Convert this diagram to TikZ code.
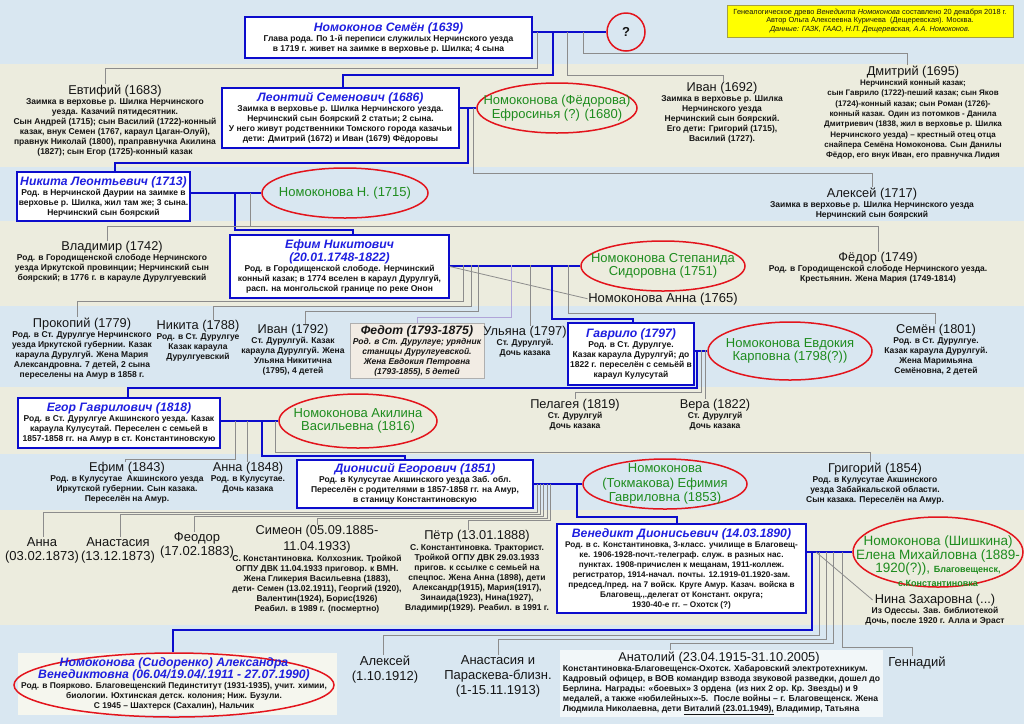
\documentclass[tikz,border=0pt]{standalone}
\usepackage{fontspec}
\setmainfont{Liberation Sans}
\usetikzlibrary{shapes.geometric,calc}
\definecolor{bandblue}{HTML}{D9E7F1}
\definecolor{bandbeige}{HTML}{ECECDE}
\definecolor{boxblue}{HTML}{0C0CCC}
\definecolor{titleblue}{HTML}{1F1FE0}
\definecolor{sgreen}{HTML}{1E8C1E}
\definecolor{sred}{HTML}{E3141C}
\definecolor{cgray}{HTML}{8C8C8C}
\definecolor{clav}{HTML}{B0A4D8}
\definecolor{fedotfill}{HTML}{F2ECE4}
\definecolor{infoyellow}{HTML}{FFFF00}
\definecolor{lightbox}{HTML}{F2F7F9}
\definecolor{lightbeige}{HTML}{F5F6EE}
\definecolor{txt}{HTML}{151515}
\newcommand\descfont{\fontsize{8.5}{10}\selectfont\bfseries}
\newcommand\smalldesc{\fontsize{8.2}{10}\selectfont\bfseries}
\newcommand\mytitle[1]{{\fontsize{12.2}{13}\selectfont\bfseries\itshape\color{titleblue}#1}}
\newcommand\myname[1]{{\fontsize{12.8}{13}\selectfont\mdseries #1}}

\begin{document}
\begin{tikzpicture}[x=1pt,y=-1pt,
  bl/.style={draw=boxblue, line width=1.2pt},
  gl/.style={draw=cgray, line width=0.8pt},
  lv/.style={draw=clav, line width=1pt},
  pbox/.style={draw=boxblue, line width=1.6pt, fill=white, align=center, inner sep=1pt, text=txt, font=\descfont},
  person/.style={align=center, anchor=north, inner sep=0.5pt, text=txt, font=\descfont},
  nameonly/.style={align=center, anchor=north, inner sep=0.5pt, text=txt, font=\fontsize{13}{14}\selectfont},
  spouse/.style={ellipse, draw=sred, line width=1.5pt, inner sep=0pt},
  spousetext/.style={align=center, text=sgreen, inner sep=0pt, font=\fontsize{13}{13.5}\selectfont},
]
% bands
\fill[bandblue] (0,0) rectangle (1024,64);
\fill[bandbeige] (0,64) rectangle (1024,167);
\fill[bandblue] (0,167) rectangle (1024,221);
\fill[bandbeige] (0,221) rectangle (1024,306);
\fill[bandblue] (0,306) rectangle (1024,387);
\fill[bandbeige] (0,387) rectangle (1024,454);
\fill[bandblue] (0,454) rectangle (1024,510);
\fill[bandbeige] (0,510) rectangle (1024,625);
\fill[bandblue] (0,625) rectangle (1024,724);
\useasboundingbox (0,0) rectangle (1024,724);
\fill[lightbeige] (18,653) rectangle (337,715);

% info
\node[draw=yellow!60!black, line width=0.4pt, fill=infoyellow, minimum width=286, minimum height=32, align=center, inner sep=1pt, font=\fontsize{7.4}{8.6}\selectfont, text=txt] (info) at (870,21) {Генеалогическое древо \textit{Венедикта Номоконова} составлено 20 декабря 2018 г.\\Автор Ольга Алексеевна Куричева \ (Дещеревская). Москва.\\\textit{Данные: ГАЗК, ГААО, Н.П. Дещеревская, А.А. Номоконов.}};

% generation 1
\node[pbox, minimum width=287, minimum height=41] (semen) at (388.5,37.5) {\mytitle{Номоконов Семён (1639)}\\Глава рода. По 1-й переписи служилых Нерчинского уезда\\в 1719 г. живет на заимке в верховье р. Шилка; 4 сына};
\node[circle, draw=sred, line width=1.5pt, minimum size=38, inner sep=0pt, font=\fontsize{13}{14}\selectfont\bfseries, text=txt] (qm) at (626,32) {?};

% generation 2
\node[person] (evt) at (115,84) {\myname{Евтифий (1683)}\\Заимка в верховье р. Шилка Нерчинского\\уезда. Казачий пятидесятник.\\Сын Андрей (1715); сын Василий (1722)-конный\\казак, внук Семен (1767, караул Цаган-Олуй),\\правнук Николай (1800), праправнучка Акилина\\(1827); сын Егор (1725)-конный казак};
\node[pbox, minimum width=237, minimum height=60] (leon) at (340.5,118) {\mytitle{Леонтий Семенович (1686)}\\Заимка в верховье р. Шилка Нерчинского уезда.\\Нерчинский сын боярский 2 статьи; 2 сына.\\У него живут родственники Томского города казачьи\\дети: Дмитрий (1672) и Иван (1679) Фёдоровы};
\node[spouse, minimum width=160, minimum height=50] (efrE) at (557,108) {};
\node[spousetext] (efr) at (efrE.center) {Номоконова (Фёдорова)\\Ефросинья (?) (1680)};
\node[person] (ivan92) at (722,82) {\myname{Иван (1692)}\\Заимка в верховье р. Шилка\\Нерчинского уезда\\Нерчинский сын боярский.\\Его дети: Григорий (1715),\\Василий (1727).};
\node[person, font=\fontsize{8}{10.3}\selectfont\bfseries] (dmitriy) at (913,65) {\myname{Дмитрий (1695)}\\Нерчинский конный казак;\\сын Гаврило (1722)-пеший казак; сын Яков\\(1724)-конный казак; сын Роман (1726)-\\конный казак. Один из потомков - Данила\\Дмитриевич (1838, жил в верховье р. Шилка\\Нерчинского уезда) – крестный отец отца\\снайпера Семёна Номоконова. Сын Данилы\\Фёдор, его внук Иван, его правнучка Лидия};

% generation 3
\node[pbox, minimum width=173, minimum height=49] (nik13) at (103.5,196.5) {\mytitle{Никита Леонтьевич (1713)}\\Род. в Нерчинской Даурии на заимке в\\верховье р. Шилка, жил там же; 3 сына.\\Нерчинский сын боярский};
\node[spouse, minimum width=166, minimum height=50] (nomNE) at (345,193) {};
\node[spousetext] (nomN) at (nomNE.center) {Номоконова Н. (1715)};
\node[person] (aleksey17) at (872,187) {\myname{Алексей (1717)}\\Заимка в верховье р. Шилка Нерчинского уезда\\Нерчинский сын боярский};

% generation 4
\node[person] (vladimir) at (112,241) {\myname{Владимир (1742)}\\Род. в Городищенской слободе Нерчинского\\уезда Иркутской провинции; Нерчинский сын\\боярский; в 1776 г. в карауле Дурулгуевский};
\node[pbox, minimum width=219, minimum height=63] (efim) at (339.5,266.5) {\mytitle{Ефим Никитович}\\\mytitle{(20.01.1748-1822)}\\Род. в Городищенской слободе. Нерчинский\\конный казак; в 1774 вселен в караул Дурулгуй,\\расп. на монгольской границе по реке Онон};
\node[spouse, minimum width=164, minimum height=50] (stepE) at (663,266) {};
\node[spousetext] (step) at (stepE.center) {Номоконова Степанида\\Сидоровна (1751)};
\node[nameonly] (anna65) at (663,292) {Номоконова Анна (1765)};
\node[person] (fedor) at (878,252) {\myname{Фёдор (1749)}\\Род. в Городищенской слободе Нерчинского уезда.\\Крестьянин. Жена Мария (1749-1814)};

% generation 5
\node[person] (prokopiy) at (82,317) {\myname{Прокопий (1779)}\\Род. в Ст. Дурулгуе Нерчинского\\уезда Иркутской губернии. Казак\\караула Дурулгуй. Жена Мария\\Александровна. 7 детей, 2 сына\\переселены на Амур в 1858 г.};
\node[person] (nikita88) at (198,320) {\myname{Никита (1788)}\\Род. в Ст. Дурулгуе\\Казак караула\\Дурулгуевский};
\node[person] (ivan92b) at (293,324) {\myname{Иван (1792)}\\Ст. Дурулгуй. Казак\\караула Дурулгуй. Жена\\Ульяна Никитична\\(1795), 4 детей};
\node[draw=cgray!70, line width=0.6pt, fill=fedotfill, minimum width=134, minimum height=55, align=center, inner sep=1pt, text=txt, font=\descfont\itshape] (fedot) at (417,350.5) {{\fontsize{12.2}{13}\selectfont\bfseries\itshape Федот (1793-1875)}\\Род. в Ст. Дурулгуе; урядник\\станицы Дурулгуевской.\\Жена Евдокия Петровна\\(1793-1855), 5 детей};
\node[person] (ulyana) at (525,326) {\myname{Ульяна (1797)}\\Ст. Дурулгуй.\\Дочь казака};
\node[pbox, minimum width=126, minimum height=62, inner sep=0.5pt] (gavrilo) at (631,354) {\mytitle{Гаврило (1797)}\\Род. в Ст. Дурулгуе.\\Казак караула Дурулгуй; до\\1822 г. переселён с семьёй в\\караул Кулусутай};
\node[spouse, minimum width=164, minimum height=58] (evdE) at (790,351) {};
\node[spousetext] (evd) at (evdE.center) {Номоконова Евдокия\\Карповна (1798(?))};
\node[person] (semen01) at (936,324) {\myname{Семён (1801)}\\Род. в Ст. Дурулгуе.\\Казак караула Дурулгуй.\\Жена Маримьяна\\Семёновна, 2 детей};

% generation 6
\node[pbox, minimum width=202, minimum height=50] (egor) at (119,423) {\mytitle{Егор Гаврилович (1818)}\\Род. в Ст. Дурулгуе Акшинского уезда. Казак\\караула Кулусутай. Переселен с семьей в\\1857-1858 гг. на Амур в ст. Константиновскую};
\node[spouse, minimum width=158, minimum height=54] (akiE) at (358,421) {};
\node[spousetext] (aki) at (akiE.center) {Номоконова Акилина\\Васильевна (1816)};
\node[person] (pelageya) at (575,399) {\myname{Пелагея (1819)}\\Ст. Дурулгуй\\Дочь казака};
\node[person] (vera) at (715,399) {\myname{Вера (1822)}\\Ст. Дурулгуй\\Дочь казака};

% generation 7
\node[person] (efim43) at (127,462) {\myname{Ефим (1843)}\\Род. в Кулусутае \ Акшинского уезда\\Иркутской губернии. Сын казака.\\Переселён на Амур.};
\node[person] (anna48) at (248,462) {\myname{Анна (1848)}\\Род. в Кулусутае.\\Дочь казака};
\node[pbox, minimum width=236, minimum height=48] (dion) at (415,484) {\mytitle{Дионисий Егорович (1851)}\\Род. в Кулусутае Акшинского уезда Заб. обл.\\Переселён с родителями в 1857-1858 гг. на Амур,\\в станицу Константиновскую};
\node[spouse, minimum width=164, minimum height=50] (efiE) at (665,484) {};
\node[spousetext, font=\fontsize{13}{14.5}\selectfont] (efi) at (efiE.center) {Номоконова\\(Токмакова) Ефимия\\Гавриловна (1853)};
\node[person] (grigoriy) at (875,462) {\myname{Григорий (1854)}\\Род. в Кулусутае Акшинского\\уезда Забайкальской области.\\Сын казака. Переселён на Амур.};

% generation 8
\node[nameonly] (anna73) at (42,537) {Анна\\(03.02.1873)};
\node[nameonly] (anast73) at (118,537) {Анастасия\\(13.12.1873)};
\node[nameonly] (feodor) at (197,532) {Феодор\\(17.02.1883)};
\node[person] (simeon) at (317,525) {\myname{Симеон (05.09.1885-}\\[3pt]\myname{11.04.1933)}\\[1pt]С. Константиновка. Колхозник. Тройкой\\ОГПУ ДВК 11.04.1933 приговор. к ВМН.\\Жена Гликерия Васильевна (1883),\\дети- Семен (13.02.1911), Георгий (1920),\\Валентин(1924), Борис(1926)\\Реабил. в 1989 г. (посмертно)};
\node[person] (petr) at (477,530) {\myname{Пётр (13.01.1888)}\\[1pt]С. Константиновка. Тракторист.\\Тройкой ОГПУ ДВК 29.03.1933\\пригов. к ссылке с семьей на\\спецпос. Жена Анна (1898), дети\\Александр(1915), Мария(1917),\\Зинаида(1923), Нина(1927),\\Владимир(1929). Реабил. в 1991 г.};
\node[pbox, minimum width=249, minimum height=89, font=\smalldesc] (ven) at (681.5,568.5) {\mytitle{Венедикт Дионисьевич (14.03.1890)}\\Род. в с. Константиновка, 3-класс. училище в Благовещ-\\ке. 1906-1928-почт.-телеграф. служ. в разных нас.\\пунктах. 1908-причислен к мещанам, 1911-коллеж.\\регистратор, 1914-начал. почты. 12.1919-01.1920-зам.\\председ./пред. на 7 войск. Круге Амур. Казач. войска в\\Благовещ.,.делегат от Констант. округа;\\1930-40-е гг. – Охотск (?)};
\node[spouse, minimum width=170, minimum height=70] (eleE) at (938,552) {};
\node[spousetext, font=\fontsize{13.5}{13.5}\selectfont] (ele) at (938,561) {Номоконова (Шишкина)\\Елена Михайловна (1889-\\1920(?)), {\fontsize{9}{10}\selectfont\bfseries Благовещенск,}\\{\fontsize{9}{10}\selectfont\bfseries с.Константиновка}};
\node[person] (nina) at (935,594) {\myname{Нина Захаровна (...)}\\Из Одессы. Зав. библиотекой\\Дочь, после 1920 г. Алла и Эраст};

% generation 9
\node[spouse, minimum width=320, minimum height=64] (alexE) at (174,685) {};
\node[align=center, inner sep=0pt, text=txt, font=\fontsize{8.4}{10}\selectfont\bfseries] (alex) at (174,684) {\mytitle{Номоконова (Сидоренко) Александра}\\\mytitle{Венедиктовна (06.04/19.04/.1911 - 27.07.1990)}\\Род. в Поярково. Благовещенский Пединститут (1931-1935), учит. химии,\\биологии. Юхтинская детск. колония; Ниж. Бузули.\\С 1945 – Шахтерск (Сахалин), Нальчик};
\node[nameonly, font=\fontsize{13}{15}\selectfont] (aleksey12) at (385,655) {Алексей\\(1.10.1912)};
\node[nameonly, font=\fontsize{13}{15}\selectfont] (anast13) at (498,655) {Анастасия и\\Параскева-близн.\\(1-15.11.1913)};
\node[fill=lightbox, minimum width=323, minimum height=67, inner sep=2pt, align=left, font=\fontsize{8.6}{10}\selectfont\bfseries, text=txt] (anat) at (721.5,683.5) {\makebox[312pt]{\myname{Анатолий (23.04.1915-31.10.2005)}}\\Константиновка-Благовещенск-Охотск. Хабаровский электротехникум.\\Кадровый офицер, в ВОВ командир взвода звуковой разведки, дошел до\\Берлина. Награды: «боевых» 3 ордена \ (из них 2 ор. Кр. Звезды) и 9\\медалей, а также «юбилейных»-5. \ После войны – г. Благовещенск. Жена\\Людмила Николаевна, дети \underline{Виталий (23.01.1949),} Владимир, Татьяна};
\node[nameonly] (gennadiy) at (917,656) {Геннадий};

% ---------- connectors ----------
\coordinate (s1) at (537,32); \coordinate (s2) at (553,32);
\coordinate (s3) at (567,32); \coordinate (s4) at (583,32);
\draw[bl] (semen.east |- qm.west) -- (qm.west);
\draw[gl] (s1) |- (105,68) -- (evt.north -| 105,0);
\draw[bl] (s2) |- (343,75) -- (leon.north -| 343,0);
\draw[gl] (s3) |- (723,75) -- (ivan92.north -| 723,0);
\draw[gl] (s4) |- (907,53) -- (dmitriy.north -| 907,0);

\coordinate (l1) at (468,108); \coordinate (l2) at (473,108);
\draw[bl] (leon.east |- efrE.west) -- (efrE.west);
\draw[bl] (l1) |- (115,163) -- (nik13.north -| 115,0);
\draw[gl] (l2) |- (872,173) -- (aleksey17.north);

\coordinate (n1) at (235,193); \coordinate (n2) at (250,193);
\draw[bl] (nik13.east |- nomNE.west) -- (nomNE.west);
\draw[bl] (n1) |- (353,230) -- (efim.north -| 353,0);
\draw[gl] (n2) |- (107,226) -- (vladimir.north -| 107,0);
\draw[gl] (n2) |- (878,226) -- (fedor.north -| 878,0);

\coordinate (e1) at (463,265); \coordinate (e2) at (471,265);
\coordinate (e3) at (478,265); \coordinate (e4) at (511,265);
\coordinate (e5) at (530,265); \coordinate (e6) at (552,265);
\coordinate (e7) at (568,265);
\draw[bl] (efim.east |- stepE.west) -- (stepE.west);
\draw[gl] (efim.east) -- (anna65.west);
\draw[gl] (e1) |- (77,301) -- (prokopiy.north -| 77,0);
\draw[gl] (e2) |- (213,306) -- (nikita88.north -| 213,0);
\draw[gl] (e3) |- (305,311) -- (ivan92b.north -| 305,0);
\draw[lv] (e4) |- (417,317) -- (fedot.north);
\draw[gl] (e5) -- (ulyana.north -| e5);
\draw[bl] (e6) |- (633,319) -- (gavrilo.north -| 633,0);
\draw[gl] (e7) |- (935,313) -- (semen01.north -| 935,0);

\coordinate (g1) at (697,350); \coordinate (g2) at (701,350); \coordinate (g3) at (705,350);
\draw[bl] (gavrilo.east |- evdE.west) -- (evdE.west);
\draw[bl] (g1) |- (128,388) -- (egor.north -| 128,0);
\draw[gl] (g2) |- (575,392) -- (pelageya.north);
\draw[gl] (g3) -- (vera.north -| g3);

\coordinate (r1) at (235,421); \coordinate (r2) at (247,421);
\coordinate (r3) at (262,421); \coordinate (r4) at (275,421);
\draw[bl] (egor.east |- akiE.west) -- (akiE.west);
\draw[gl] (r1) |- (125,459) -- (efim43.north -| 125,0);
\draw[gl] (r2) -- (anna48.north -| r2);
\draw[bl] (r3) |- (405,456) -- (dion.north -| 405,0);
\draw[gl] (r4) |- (870,452) -- (grigoriy.north -| 870,0);

\coordinate (i1) at (537,484); \coordinate (i2) at (540,484);
\coordinate (i3) at (543,484); \coordinate (i4) at (547,484);
\coordinate (i5) at (550,484); \coordinate (i6) at (577,484);
\draw[bl] (dion.east |- efiE.west) -- (efiE.west);
\draw[gl] (i1) |- (43,512) -- (anna73.north -| 43,0);
\draw[gl] (i2) |- (120,514) -- (anast73.north -| 120,0);
\draw[gl] (i3) |- (194,516) -- (feodor.north -| 194,0);
\draw[gl] (i4) |- (317,518) -- (simeon.north);
\draw[gl] (i5) |- (468,520) -- (petr.north -| 468,0);
\draw[bl] (i6) |- (677,517) -- (ven.north -| 677,0);

\coordinate (v1) at (812,552); \coordinate (v2) at (819,552);
\coordinate (v3) at (826,552); \coordinate (v4) at (833,552);
\coordinate (v5) at (842,552); \coordinate (vn) at (816,552);
\draw[bl] (ven.east |- eleE.west) -- (eleE.west);
\draw[gl] (vn) -- ($(nina.north west)+(8,6)$);
\draw[bl] (v1) |- (173,630) -- (alexE.north -| 173,0);
\draw[gl] (v2) |- (383,635) -- (aleksey12.north -| 383,0);
\draw[gl] (v3) |- (498,639) -- (anast13.north);
\draw[gl] (v4) |- (670,643) -- (anat.north -| 670,0);
\draw[gl] (v5) |- (912,647) -- (gennadiy.north -| 912,0);
\end{tikzpicture}
\end{document}
